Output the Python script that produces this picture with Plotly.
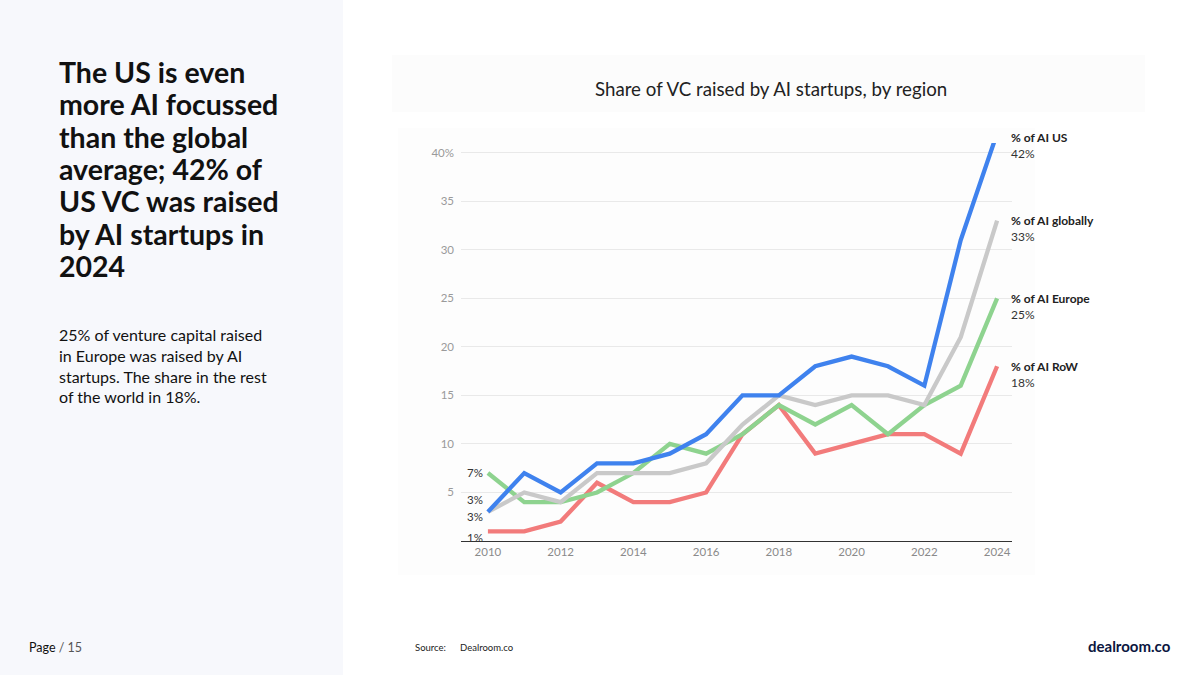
import plotly.graph_objects as go

years = list(range(2010, 2025))
us_share = [3, 7, 5, 8, 8, 9, 11, 15, 15, 18, 19, 18, 16, 31, 42]
global_share = [3, 5, 4, 7, 7, 7, 8, 12, 15, 14, 15, 15, 14, 21, 33]
europe_share = [7, 4, 4, 5, 7, 10, 9, 11, 14, 12, 14, 11, 14, 16, 25]
row_share = [1, 1, 2, 6, 4, 4, 5, 11, 14, 9, 10, 11, 11, 9, 18]

series_names = ["% of AI RoW", "% of AI Europe", "% of AI globally", "% of AI US"]
series_values = [row_share, europe_share, global_share, us_share]
series_colors = ["#f27b7b", "#8ed38f", "#c9c9c9", "#3f82ee"]

y_tickvals = [5, 10, 15, 20, 25, 30, 35, 40]
y_ticktext = ["5", "10", "15", "20", "25", "30", "35", "40%"]
x_tickvals = [2010, 2012, 2014, 2016, 2018, 2020, 2022, 2024]
y_max = 41

headline = [
    "The US is even",
    "more AI focussed",
    "than the global",
    "average; 42% of",
    "US VC was raised",
    "by AI startups in",
    "2024",
]
body = ("25% of venture capital raised<br>in Europe was raised by AI<br>"
        "startups. The share in the rest<br>of the world in 18%.")

FONT = "Lato"
DARK = "#111111"

W, H = 1200, 675
ML, MR, MT, MB = 461, 188, 143, 134
PW, PH = W - ML - MR, H - MT - MB


def px(x):
    # page pixel -> paper x
    return (x - ML) / PW


def py(y):
    # page pixel (from top) -> paper y
    return (H - MB - y) / PH


fig = go.Figure()
for name, values, color in zip(series_names, series_values, series_colors):
    fig.add_trace(go.Scatter(
        x=years, y=values, mode="lines", name=name,
        line={"color": color, "width": 4.3},
        hoverinfo="skip",
    ))

annotations = []

# end labels on the right (paper y so the 42% label is not hidden above the range)
for name, values in zip(series_names, series_values):
    yv = values[-1] / y_max
    top_shift = -4 if name == "% of AI US" else 0
    annotations.append(dict(
        x=years[-1], y=yv, xref="x", yref="paper",
        text=f"<b>{name}</b>", showarrow=False, xanchor="left", yanchor="middle",
        xshift=12, yshift=top_shift,
        font={"family": FONT, "size": 12, "color": "#222222"},
    ))
    annotations.append(dict(
        x=years[-1], y=yv, xref="x", yref="paper",
        text=f"{values[-1]}%", showarrow=False, xanchor="left", yanchor="middle",
        xshift=12, yshift=top_shift - 16,
        font={"family": FONT, "size": 12, "color": "#333333"},
    ))

# start labels on the left
start_shifts = {"% of AI Europe": 1, "% of AI globally": 12, "% of AI US": -5, "% of AI RoW": -6}
for name, values in zip(series_names, series_values):
    annotations.append(dict(
        x=years[0], y=values[0], xref="x", yref="y",
        text=f"{values[0]}%", showarrow=False, xanchor="right", yanchor="middle",
        xshift=-3, yshift=start_shifts[name],
        font={"family": FONT, "size": 11.5, "color": "#333333"},
    ))

# chart title
annotations.append(dict(
    x=px(771), y=py(89), xref="paper", yref="paper", text="Share of VC raised by AI startups, by region",
    showarrow=False, xanchor="center", yanchor="middle",
    font={"family": FONT, "size": 18.7, "color": "#222222"},
))

# left panel headline
for i, line in enumerate(headline):
    annotations.append(dict(
        x=px(57), y=py(72 + i * 32.3), xref="paper", yref="paper", text=f"<b>{line}</b>",
        showarrow=False, xanchor="left", yanchor="middle",
        font={"family": FONT, "size": 28.5, "color": DARK},
    ))
annotations.append(dict(
    x=px(57), y=py(323), xref="paper", yref="paper", text=body, showarrow=False,
    xanchor="left", yanchor="top", align="left",
    font={"family": FONT, "size": 16, "color": DARK},
))

# footer
footer_font = {"family": FONT, "size": 9.5, "color": "#222222"}
annotations += [
    dict(x=px(27), y=py(647), text="Page <span style='color:#555'>/ 15</span>",
         xanchor="left", font={"family": FONT, "size": 12.5, "color": DARK}),
    dict(x=px(413), y=py(647), text="Source:", xanchor="left", font=footer_font),
    dict(x=px(458), y=py(647), text="Dealroom.co", xanchor="left", font=footer_font),
    dict(x=px(1173), y=py(646), text="<b>dealroom.co</b>", xanchor="right",
         font={"family": FONT, "size": 15, "color": "#0b1640"}),
]
for a in annotations:
    a.setdefault("xref", "paper")
    a.setdefault("yref", "paper")
    a.setdefault("showarrow", False)
    a.setdefault("yanchor", "middle")

shapes = [
    dict(type="rect", xref="paper", yref="paper", x0=px(0), x1=px(343), y0=py(H), y1=py(0),
         fillcolor="#f7f8fc", line={"width": 0}, layer="below"),
    dict(type="rect", xref="paper", yref="paper", x0=px(392), x1=px(1145), y0=py(112), y1=py(55),
         fillcolor="#fcfcfc", line={"width": 0}, layer="below"),
    dict(type="rect", xref="paper", yref="paper", x0=px(398), x1=px(1035), y0=py(575), y1=py(128),
         fillcolor="#fdfdfd", line={"width": 0}, layer="below"),
]

fig.update_layout(
    width=W, height=H,
    margin={"l": ML, "r": MR, "t": MT, "b": MB},
    paper_bgcolor="white", plot_bgcolor="rgba(0,0,0,0)",
    showlegend=False,
    font={"family": FONT},
    xaxis={
        "range": [2009.26, 2024.41], "tickvals": x_tickvals, "showgrid": False,
        "showline": True, "linecolor": "#333333", "linewidth": 1.3,
        "ticks": "", "tickfont": {"family": FONT, "size": 11.5, "color": "#8a8a8a"},
        "zeroline": False, "fixedrange": True,
    },
    yaxis={
        "range": [0, y_max], "tickvals": y_tickvals, "ticktext": y_ticktext,
        "showgrid": True, "gridcolor": "#e9e9e9", "gridwidth": 1,
        "zeroline": False, "ticks": "", "ticklabelstandoff": 6,
        "tickfont": {"family": FONT, "size": 11.5, "color": "#9a9a9a"}, "fixedrange": True,
    },
    annotations=annotations,
    shapes=shapes,
)

fig.write_html("out.html", config={"displayModeBar": False},
               post_script="document.body.style.margin='0';")
